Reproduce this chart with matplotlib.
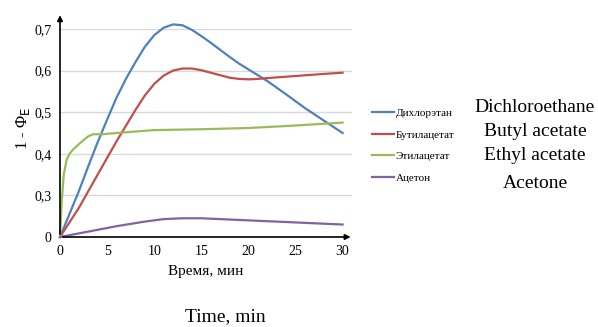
import matplotlib
matplotlib.use("Agg")
import matplotlib.pyplot as plt

# readings from the picture (y axis bottom is labelled "0" but sits at 0.2)
x_dce = [0, 1, 2, 3, 4, 5, 6, 7, 8, 9, 10, 11, 12, 13, 14, 15, 16, 17, 18, 19, 20,
         22, 24, 26, 28, 30]
y_dce = [0.2, 0.255, 0.31, 0.37, 0.428, 0.482, 0.535, 0.58, 0.62, 0.657, 0.685, 0.703,
         0.711, 0.709, 0.698, 0.683, 0.667, 0.65, 0.633, 0.617, 0.603, 0.575, 0.543,
         0.51, 0.48, 0.45]
x_bua = [0, 2, 4, 6, 8, 9, 10, 11, 12, 13, 14, 15, 16, 17, 18, 19, 20, 21, 22, 25, 28, 30]
y_bua = [0.2, 0.27, 0.35, 0.43, 0.505, 0.54, 0.568, 0.588, 0.6, 0.605, 0.605, 0.601,
         0.595, 0.589, 0.583, 0.58, 0.579, 0.58, 0.582, 0.587, 0.592, 0.595]
x_eta = [0, 0.2, 0.4, 0.7, 1, 1.5, 2, 2.5, 3, 3.5, 4.5, 6, 10, 15, 20, 25, 30]
y_eta = [0.2, 0.29, 0.35, 0.385, 0.4, 0.413, 0.423, 0.433, 0.442, 0.447, 0.447, 0.45,
         0.457, 0.459, 0.462, 0.468, 0.475]
x_ace = [0, 3, 6, 9, 11, 13, 15, 18, 21, 24, 27, 30]
y_ace = [0.2, 0.213, 0.226, 0.237, 0.243, 0.245, 0.245, 0.242, 0.239, 0.236, 0.233, 0.23]

series_ru = ["Дихлорэтан", "Бутилацетат", "Этилацетат", "Ацетон"]
series_en = ["Dichloroethane", "Butyl acetate", "Ethyl acetate", "Acetone"]
colors = ["#4F81BD", "#C0504D", "#9BBB59", "#8064A2"]
xticks = [0, 5, 10, 15, 20, 25, 30]
yticks = [0.2, 0.3, 0.4, 0.5, 0.6, 0.7]
ylabels = ["0", "0,3", "0,4", "0,5", "0,6", "0,7"]

plt.rcParams["font.family"] = ["Liberation Serif", "DejaVu Serif"]

fig = plt.figure(figsize=(5.98, 3.27), dpi=100)
ax = fig.add_axes([60 / 598, 1 - 237 / 327, 292 / 598, 208 / 327])
ax.set_xlim(0, 31)
ax.set_ylim(0.2, 0.7)

for v in yticks[1:]:
    ax.axhline(v, color="#d9d9d9", lw=1, zorder=0)

data = [(x_dce, y_dce), (x_bua, y_bua), (x_eta, y_eta), (x_ace, y_ace)]
lines = []
for (xs, ys), c, name in zip(data, colors, series_ru):
    ln, = ax.plot(xs, ys, color=c, lw=1.6, label=name, clip_on=False)
    lines.append(ln)

for s in ax.spines.values():
    s.set_visible(False)
ax.annotate("", xy=(0, 1.08), xytext=(0, 0), xycoords="axes fraction",
            arrowprops=dict(arrowstyle="-|>", color="black", lw=1.2,
                            mutation_scale=8))
ax.annotate("", xy=(1.005, 0), xytext=(0, 0), xycoords="axes fraction",
            arrowprops=dict(arrowstyle="-|>", color="black", lw=1.2,
                            mutation_scale=8))

ax.set_xticks(xticks)
ax.set_yticks(yticks)
ax.set_yticklabels(ylabels)
ax.tick_params(length=0, labelsize=10, pad=6)
ax.set_xlabel("Время, мин", fontsize=11, labelpad=5)
ax.set_ylabel("1 - Φ$_\\mathrm{E}$", fontsize=12)
ax.yaxis.set_label_coords(-0.095, 0.52)

fig.legend(handles=lines, loc="upper left", bbox_to_anchor=(368 / 598, 1 - 104 / 327),
           frameon=False, fontsize=8, handlelength=1.9, handletextpad=0.2,
           labelspacing=1.05, borderaxespad=0)

ys_en = [107, 131, 156, 183]
for t, yy in zip(series_en, ys_en):
    fig.text(535 / 598, 1 - yy / 327, t, ha="center", va="center", fontsize=14)

fig.text(225 / 598, 1 - 317 / 327, "Time, min", ha="center", va="center", fontsize=14)

fig.savefig("out.png", dpi=100)
